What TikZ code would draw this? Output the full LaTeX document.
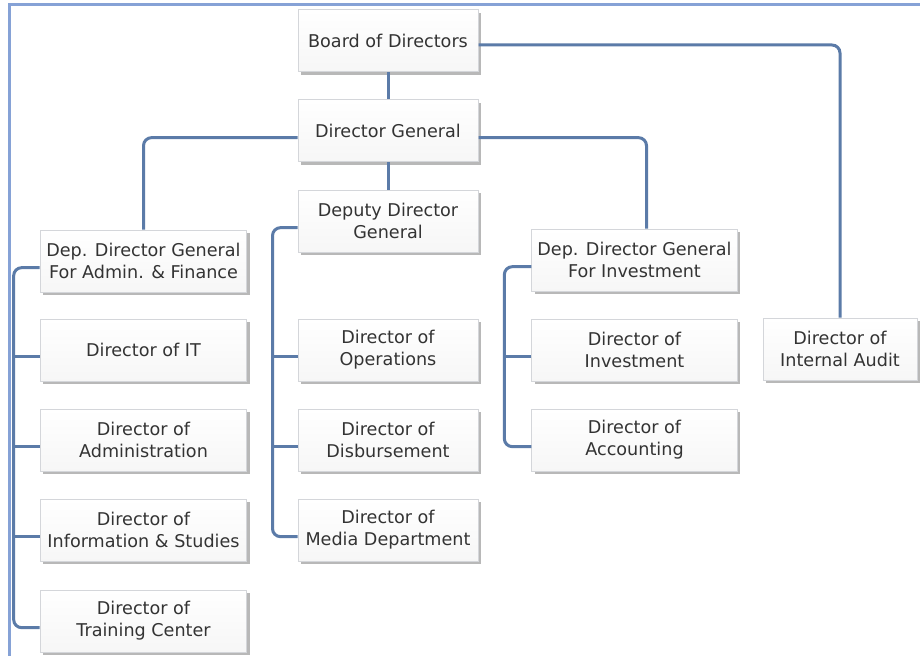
\documentclass[tikz,border=0pt]{standalone}
\usepackage{fontspec}
\setmainfont{DejaVu Sans}
\usetikzlibrary{shadows}
\definecolor{linkblue}{HTML}{5B7BA8}
\definecolor{framebl}{HTML}{86A2D6}
\definecolor{boxedge}{HTML}{D4D6DA}

\begin{document}
\begin{tikzpicture}[x=0.75pt,y=-0.75pt,
    box/.style={draw=boxedge, line width=0.75pt, top color=white, bottom color=black!3.5,
      minimum height=46.5pt, inner sep=0pt, align=center, text=black!80,
      font=\fontsize{13.2}{16.5}\selectfont,
      drop shadow={shadow xshift=2.2pt, shadow yshift=-2.6pt, opacity=0.28, fill=black}},
    midbox/.style={box, minimum width=135pt},
    leftbox/.style={box, minimum width=155pt},
    rightbox/.style={box, minimum width=154pt},
    auditbox/.style={box, minimum width=115.5pt},
    link/.style={draw=linkblue, line width=2.25pt, rounded corners=6pt}]
    \useasboundingbox (0,0) rectangle (920,656);
    \draw[framebl, line width=2pt] (921,4.5) -- (9.5,4.5) -- (9.5,657);
    % top
    \node[midbox] (board) at (388,41) {Board of Directors};
    \node[midbox] (dg) at (388,131) {Director General};
    \node[midbox] (ddg) at (388,221) {Deputy Director\\General};
    % left column
    \node[leftbox] (dga) at (143.5,261) {Dep. Director General\\For Admin. \& Finance};
    \node[leftbox] (it) at (143.5,350) {Director of IT};
    \node[leftbox] (adm) at (143.5,440) {Director of\\Administration};
    \node[leftbox] (info) at (143.5,530) {Director of\\Information \& Studies};
    \node[leftbox] (train) at (143.5,621) {Director of\\Training Center};
    % middle column
    \node[midbox] (ops) at (388,350) {Director of\\Operations};
    \node[midbox] (disb) at (388,440) {Director of\\Disbursement};
    \node[midbox] (media) at (388,530) {Director of\\Media Department};
    % right column
    \node[rightbox] (dgi) at (634.5,260) {Dep. Director General\\For Investment};
    \node[rightbox] (inv) at (634.5,350) {Director of\\Investment};
    \node[rightbox] (acc) at (634.5,440) {Director of\\Accounting};
    \node[auditbox] (audit) at (840,349) {Director of\\Internal Audit};
    % links
    \draw[link] (board) -- (dg);
    \draw[link] (dg) -- (ddg);
    \draw[link] ([yshift=-3pt]board.east) -| (audit);
    \draw[link] ([yshift=-5pt]dg.west) -| (dga);
    \draw[link] ([yshift=-5pt]dg.east) -| ([xshift=9pt]dgi.north);
    \draw[link] ([yshift=-5pt]dga.west) -- ++(-26,0) |- ([yshift=-5pt]train.west);
    \draw[link] ([yshift=-5pt]ddg.west) -- ++(-25,0) |- ([yshift=-5pt]media.west);
    \draw[link] ([yshift=-5pt]dgi.west) -- ++(-27,0) |- ([yshift=-5pt]acc.west);
    \foreach \n in {it,adm,info}
      \draw[link] ([yshift=-5pt]\n.west) -- ++(-26,0);
    \foreach \n in {ops,disb}
      \draw[link] ([yshift=-5pt]\n.west) -- ++(-25,0);
    \draw[link] ([yshift=-5pt]inv.west) -- ++(-27,0);
\end{tikzpicture}
\end{document}
